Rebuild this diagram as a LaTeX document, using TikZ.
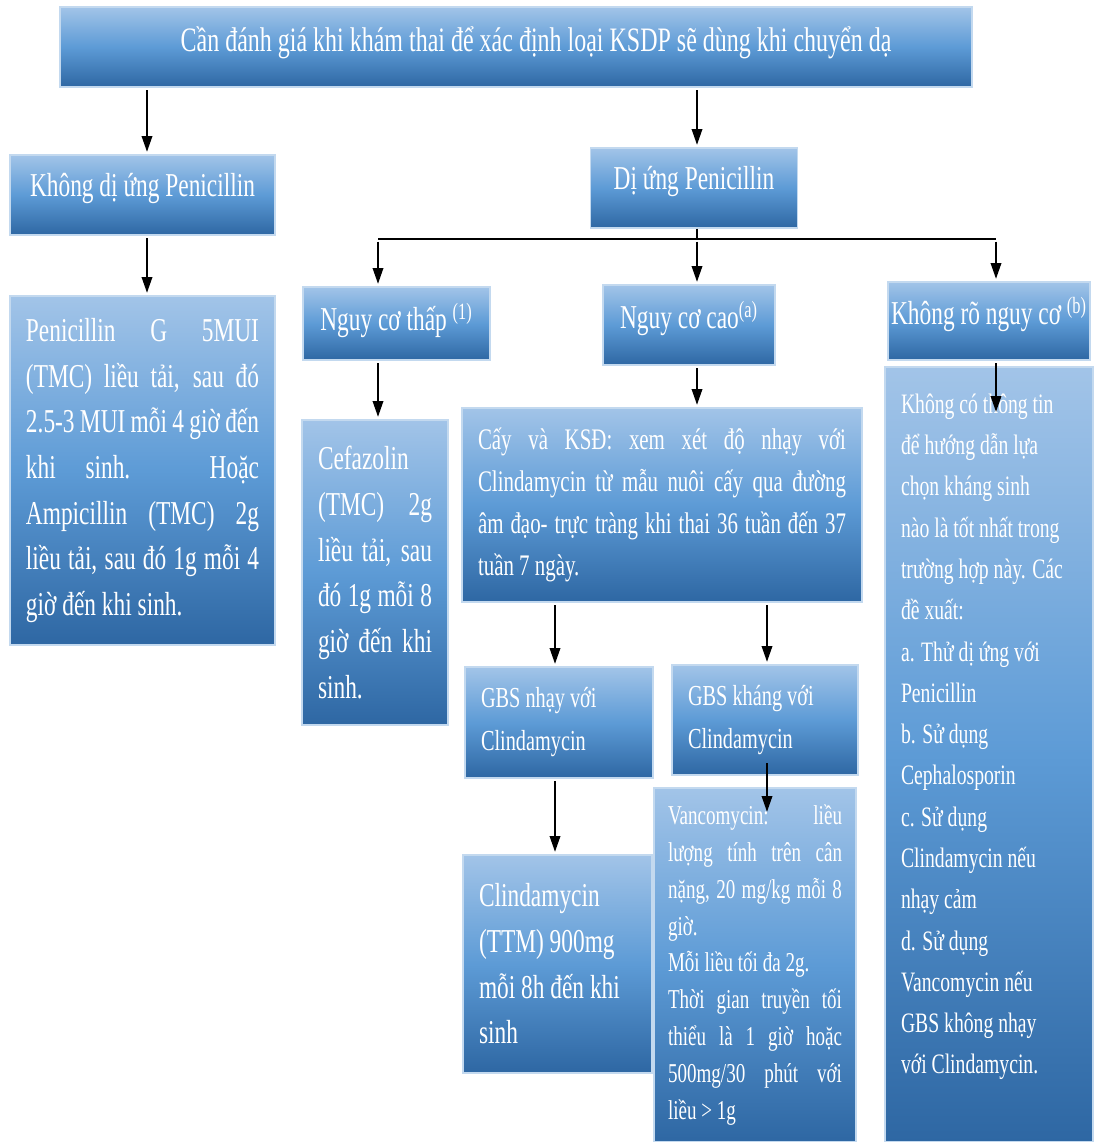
\documentclass[tikz,border=0pt]{standalone}
\usepackage{fontspec}
\setmainfont{Liberation Serif}[FakeStretch=0.7]
\usepackage{tikz}
\usetikzlibrary{arrows.meta}
\usetikzlibrary{calc}

\definecolor{boxtop}{HTML}{A2C4E8}
\definecolor{boxmid}{HTML}{5D9BD6}
\definecolor{boxbot}{HTML}{2E67A3}
\definecolor{boxline}{HTML}{C3D9EF}

\tikzset{
  box/.style={rectangle, draw=boxline, line width=0.6pt, top color=boxtop,
    bottom color=boxbot, middle color=boxmid, text=white,
    inner xsep=16*0.02cm, inner ysep=0pt},
  sz/.style 2 args={minimum width=#1*0.02cm, minimum height=#2*0.02cm,
    text width=#1*0.02cm-32*0.02cm},
  head/.style={box, align=flush center, inner xsep=0pt, text depth=12pt,
    font=\fontsize{19}{24}\selectfont},
  bigtext/.style={box, align=justify, font=\fontsize{19}{26}\selectfont},
  smalltext/.style={box, align=flush left, font=\fontsize{16.5}{24.5}\selectfont}
}
\hbadness=10000

\begin{document}
\begin{tikzpicture}[x=0.02cm, y=-0.02cm]
        \path[use as bounding box, fill=white] (0,0) rectangle (1096,1142);

        % top level
        \node[head, minimum width=912*0.02cm, minimum height=80*0.02cm, text depth=9pt,
              font=\fontsize{19.5}{22}\selectfont] (title) at (516,47)
              {\hspace*{0.8cm}Cần đánh giá khi khám thai để xác định loại KSDP sẽ dùng khi chuyển dạ};
        \node[head, minimum width=265*0.02cm, minimum height=80*0.02cm] (kd) at (142.5,195)
              {Không dị ứng Penicillin};
        \node[head, minimum width=207*0.02cm, minimum height=80*0.02cm] (du) at (694,188)
              {Dị ứng Penicillin};

        % risk groups
        \node[head, minimum width=187*0.02cm, minimum height=73*0.02cm, text depth=8pt] (thap) at (396.5,323.5)
              {Nguy cơ thấp \textsuperscript{(1)}};
        \node[head, minimum width=172*0.02cm, minimum height=80*0.02cm] (cao) at (689,325)
              {Nguy cơ cao\textsuperscript{(a)}};
        \node[head, minimum width=202*0.02cm, minimum height=78*0.02cm] (khongro) at (989,321)
              {Không rõ nguy cơ \textsuperscript{(b)}};

        % treatments
        \node[bigtext, sz={265}{349}] (peng) at (142.5,470.5)
              {Penicillin G 5MUI\linebreak (TMC) liều tải, sau đó\linebreak
               2.5-3 MUI mỗi 4 giờ đến\linebreak khi sinh. Hoặc\linebreak
               Ampicillin (TMC) 2g\linebreak liều tải, sau đó 1g mỗi 4\linebreak
               giờ đến khi sinh.};
        \node[bigtext, sz={146}{305}] (cefaz) at (375,572.5)
              {Cefazolin\\ (TMC) 2g\linebreak liều tải, sau\linebreak đó 1g mỗi 8\linebreak
               giờ đến khi\linebreak sinh.};
        \node[bigtext, sz={400}{194}, font=\fontsize{17}{24}\selectfont] (cay) at (662,505)
              {Cấy và KSĐ: xem xét độ nhạy với\linebreak Clindamycin từ mẫu nuôi cấy qua đường\linebreak
               âm đạo- trực tràng khi thai 36 tuần đến 37\linebreak tuần 7 ngày.};
        \node[smalltext, sz={188}{111}] (gbsn) at (559,722.5)
              {GBS nhạy  với\\ Clindamycin};
        \node[smalltext, sz={186}{110}] (gbsk) at (765,720)
              {GBS kháng  với\\ Clindamycin};
        \node[bigtext, sz={189}{218}, align=flush left] (clinda) at (557.5,964)
              {Clindamycin\\ (TTM) 900mg\\ mỗi 8h đến khi\\ sinh};
        \node[bigtext, sz={202}{354}, text width=174*0.02cm, inner xsep=14*0.02cm,
              font=\fontsize{15.5}{21}\selectfont] (vanco) at (755,965)
              {Vancomycin: liều\linebreak lượng tính trên cân\linebreak nặng, 20 mg/kg mỗi 8\linebreak
               giờ.\\ Mỗi liều tối đa 2g.\\ Thời gian truyền tối\linebreak thiểu là 1 giờ hoặc\linebreak
               500mg/30 phút với\linebreak liều > 1g};
        \node[smalltext, sz={208}{775}, font=\fontsize{16}{23.5}\selectfont] (khongco) at (989,754.5)
              {Không có thông tin\\ để hướng dẫn lựa\\ chọn kháng sinh\\ nào là tốt nhất trong\\
               trường hợp này. Các\\ đề xuất:\\ a. Thử dị ứng  với\\ Penicillin\\ b. Sử dụng\\
               Cephalosporin\\ c. Sử dụng\\ Clindamycin nếu\\ nhạy cảm\\ d. Sử dụng\\
               Vancomycin nếu\\ GBS không nhạy\\ với Clindamycin.\\ \mbox{}};

        % bar under Di ung Penicillin
        \coordinate (j1) at (378,239);
        \coordinate (j2) at (697,239);
        \coordinate (j3) at (996,239);

        \begin{scope}[every edge/.style={draw=black, line width=1pt,
                      shorten <=1.5pt, shorten >=1.5pt,
                      -{Triangle[length=9pt, width=6pt]}}]
        \path (title.south -| 147,0) edge (kd.north -| 147,0);
        \path (title.south -| j2) edge (du.north -| j2);
        \draw[line width=1pt] (du.south -| j2) -- (j2);
        \draw[line width=1pt] (j1) -- (j3);
        \path (j1) edge (j1 |- thap.north);
        \path (j2) edge (j2 |- cao.north);
        \path (j3) edge (j3 |- khongro.north);
        \path (kd.south -| 147,0) edge (peng.north -| 147,0);
        \path (thap.south -| j1) edge (cefaz.north -| j1);
        \path (cao.south -| j2) edge (cay.north -| j2);
        \path (cay.south -| 555,0) edge (gbsn.north -| 555,0);
        \path (cay.south -| 767,0) edge (gbsk.north -| 767,0);
        \path (gbsn.south -| 555,0) edge (clinda.north -| 555,0);
        \path ($(gbsk.south -| 767,0)+(0,-15)$) edge ($(vanco.north -| 767,0)+(0,27)$);
        \path (khongro.south -| j3) edge ($(khongco.north -| j3)+(0,48)$);
        \end{scope}
\end{tikzpicture}
\end{document}
